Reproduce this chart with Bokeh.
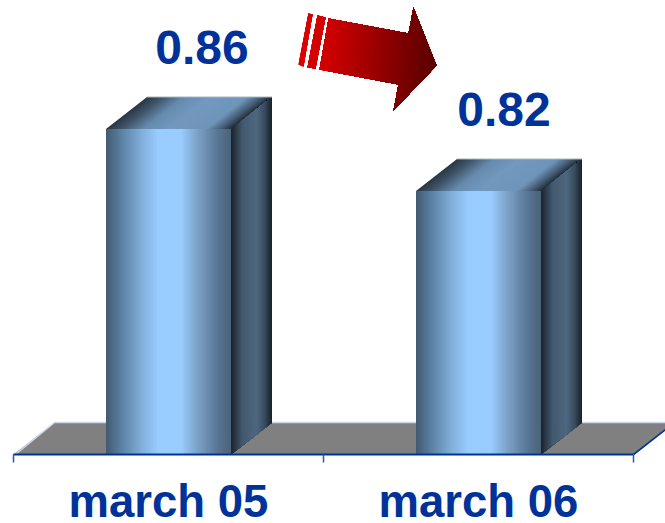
import numpy as np
from bokeh.embed import file_html
from bokeh.models import Range1d
from bokeh.plotting import figure
from bokeh.resources import INLINE
from bokeh.core.properties import value

categories = ["march 05", "march 06"]
ratios = [0.86, 0.82]
value_labels = ["0.86", "0.82"]

W, H = 665, 523
CAT_PX = 310.0      # width of a category
UNIT_PX = 1550.0    # pixels per unit of the ratio
AXIS_LEFT = 13.0
AXIS_Y = 454.0
BASE = 0.65

BAR_W = 125 / CAT_PX
DEPTH_X = 41 / CAT_PX
DEPTH_Y = 32 / UNIT_PX

NAVY = "#003399"
FONT = value("Liberation Sans")

p = figure(
    width=W, height=H, min_border=0, toolbar_location=None, output_backend="svg",
    x_axis_type=None, y_axis_type=None, outline_line_color=None,
    x_range=Range1d(-AXIS_LEFT / CAT_PX, (W - AXIS_LEFT) / CAT_PX),
    y_range=Range1d(BASE - (H - AXIS_Y) / UNIT_PX, BASE + AXIS_Y / UNIT_PX),
)
p.grid.visible = False


def sx(px):
    return (px - AXIS_LEFT) / CAT_PX


def sy(px):
    return BASE + (AXIS_Y - px) / UNIT_PX


def ramp(stops, t):
    pos = [s[0] for s in stops]
    chans = [[int(s[1][i:i + 2], 16) for s in stops] for i in (1, 3, 5)]
    r, g, b = (int(round(np.interp(t, pos, c))) for c in chans)
    return f"#{r:02x}{g:02x}{b:02x}"


FRONT = [(0, "#425a72"), (0.14, "#5f86a8"), (0.30, "#84b2df"), (0.42, "#99ccff"),
         (0.60, "#99ccff"), (0.74, "#7b9fc4"), (0.90, "#577493"), (1, "#4a6378")]
TOP = [(0, "#2a3744"), (0.12, "#3f5468"), (0.30, "#668bae"), (0.50, "#7299be"),
       (0.80, "#6f95ba"), (0.92, "#445c73"), (1, "#222e39")]
SIDE = [(0, "#1b242d"), (0.28, "#43596f"), (0.62, "#4f6880"), (0.82, "#3a4d60"), (1, "#18212a")]

STRIPS = 80

# Floor of the chart, between the axis and the back edge
floor_x = [0, 2, 2 + DEPTH_X, DEPTH_X]
floor_y = [BASE, BASE, BASE + DEPTH_Y, BASE + DEPTH_Y]
p.patch(floor_x, floor_y, fill_color="#808080", line_color=None)
p.line([0.006, DEPTH_X, 2 + DEPTH_X], [BASE, BASE + DEPTH_Y, BASE + DEPTH_Y],
       line_color="#ccd6ee", line_width=1.6)
p.line([2, 2 + DEPTH_X], [BASE, BASE + DEPTH_Y], line_color=NAVY, line_width=1.6)

# Three-dimensional columns; every strip runs through to the far edge so no seams show
for i, v in enumerate(ratios):
    x0 = i + 0.5 - BAR_W / 2
    x1 = x0 + BAR_W
    ts = np.linspace(0, 1, STRIPS, endpoint=False)

    p.patches([[x0 + t * BAR_W, x1, x1, x0 + t * BAR_W] for t in ts],
              [[BASE, BASE, v, v] for t in ts],
              fill_color=[ramp(FRONT, t + 0.5 / STRIPS) for t in ts], line_color=None)

    p.patches([[x0 + t * BAR_W, x1, x1 + DEPTH_X, x0 + t * BAR_W + DEPTH_X] for t in ts],
              [[v, v, v + DEPTH_Y, v + DEPTH_Y] for t in ts],
              fill_color=[ramp(TOP, t + 0.5 / STRIPS) for t in ts], line_color=None)

    p.patches([[x1 + t * DEPTH_X, x1 + DEPTH_X, x1 + DEPTH_X, x1 + t * DEPTH_X] for t in ts],
              [[BASE + t * DEPTH_Y, BASE + DEPTH_Y, v + DEPTH_Y, v + t * DEPTH_Y] for t in ts],
              fill_color=[ramp(SIDE, t + 0.5 / STRIPS) for t in ts], line_color=None)

    p.line([x0 + DEPTH_X, x1 + DEPTH_X], [v + DEPTH_Y, v + DEPTH_Y],
           line_color="#aab4be", line_width=1)

# Category axis with its ticks
p.line([0, 2], [BASE, BASE], line_color=NAVY, line_width=2)
p.segment([0, 1, 2], [BASE] * 3, [0, 1, 2], [BASE - 8 / UNIT_PX] * 3,
          line_color="#2f55a8", line_width=1.5)

# Texts, placed by their vertical middle
p.text([i + 0.5 for i in range(2)], [BASE - 47 / UNIT_PX] * 2, text=categories,
       text_font=FONT, text_font_style="bold", text_font_size="45.5px",
       text_color=NAVY, text_align="center", text_baseline="middle")
label_shift = [33.5 / CAT_PX, 25.5 / CAT_PX]
p.text([i + 0.5 + label_shift[i] for i in range(2)],
       [v + 82 / UNIT_PX for v in ratios], text=value_labels,
       text_font=FONT, text_font_style="bold", text_font_size="48px",
       text_color=NAVY, text_align="center", text_baseline="middle")

# Trend arrow with stripes at its tail, shaded along its own direction
ARROW = [(328, 18), (408, 33), (413, 7), (436, 65), (393, 110), (398, 84), (319, 69)]
STRIPE_A = [(317, 15), (325, 17), (315, 68), (307, 67)]
STRIPE_B = [(308, 13), (312, 14), (303, 66), (298, 64)]
ARROW_RAMP = [(0, "#e00000"), (0.25, "#cc0000"), (0.7, "#8a0000"), (1, "#5f0000")]
AXIS_DIR = np.array([np.cos(np.radians(4)), np.sin(np.radians(4))])
PROJ_MIN, PROJ_MAX = 298.0, 432.0


def clip_from(points, level):
    """Part of a polygon lying at or beyond a level along the shading direction."""
    out = []
    for a, b in zip(points, points[1:] + points[:1]):
        a, b = np.array(a, float), np.array(b, float)
        da, db = a @ AXIS_DIR - level, b @ AXIS_DIR - level
        if da >= 0:
            out.append(tuple(a))
        if da * db < 0:
            out.append(tuple(a + (b - a) * da / (da - db)))
    return out


for shape in (STRIPE_B, STRIPE_A, ARROW):
    xs, ys, cols = [], [], []
    for level in np.arange(PROJ_MIN, PROJ_MAX, 1.5):
        part = clip_from(shape, level)
        if len(part) >= 3:
            xs.append([sx(q[0]) for q in part])
            ys.append([sy(q[1]) for q in part])
            cols.append(ramp(ARROW_RAMP, (level - PROJ_MIN) / (PROJ_MAX - PROJ_MIN)))
    p.patches(xs, ys, fill_color=cols, line_color=None)

open("out.html", "w").write(file_html(p, INLINE))
